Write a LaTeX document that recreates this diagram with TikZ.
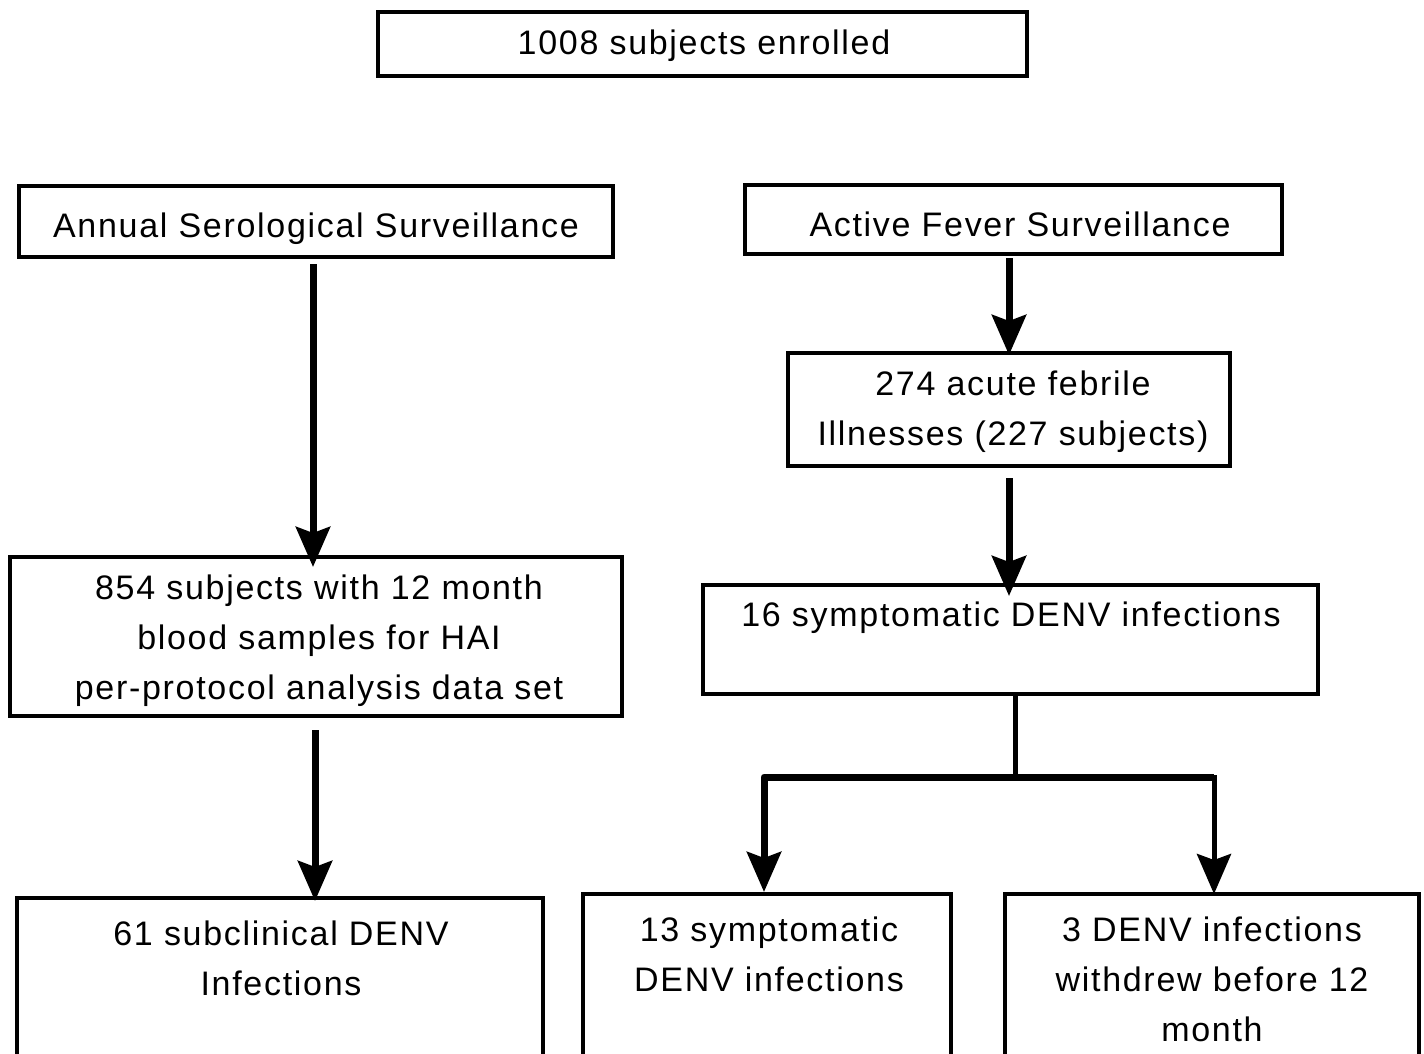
\documentclass[tikz,border=0pt]{standalone}
\usepackage{fontspec}
\setmainfont[LetterSpace=5]{Liberation Sans}
\usetikzlibrary{arrows.meta}
\begin{document}
\begin{tikzpicture}[x=1pt,y=-1pt,
  box/.style={draw=black,line width=4pt,fill=white,inner sep=0pt},
  txt/.style={font=\fontsize{34}{50}\selectfont,align=center,inner sep=0pt},
  arr/.style={line width=7pt,-{Stealth[length=40pt,width=34pt,inset=6pt]}},
  conn/.style={line width=5pt}]
\clip (0,0) rectangle (1424,1053);
\fill[white] (0,0) rectangle (1424,1053);
% boxes
\node[box,minimum width=649pt,minimum height=64pt] (top) at (702.5,44) {};
\node[box,minimum width=594pt,minimum height=71pt] (ann) at (316,221.5) {};
\node[box,minimum width=537pt,minimum height=69pt] (act) at (1013.5,219.5) {};
\node[box,minimum width=442pt,minimum height=113pt] (feb) at (1009,409.5) {};
\node[box,minimum width=612pt,minimum height=159pt] (hai) at (316,636.5) {};
\node[box,minimum width=615pt,minimum height=109pt] (sym) at (1010.5,639.5) {};
\node[box,minimum width=526pt,minimum height=180pt] (sub) at (280,988) {};
\node[box,minimum width=368pt,minimum height=180pt] (s13) at (767,984) {};
\node[box,minimum width=414pt,minimum height=180pt] (wd) at (1212,984) {};
% texts
\node[txt] (ttop) at (704,46) {1008 subjects enrolled};
\node[txt] (tann) at (316,229) {Annual Serological Surveillance};
\node[txt] (tact) at (1020,224) {Active Fever Surveillance};
\node[txt] (tfeb) at (1013,412) {274 acute febrile\\Illnesses (227 subjects)};
\node[txt] (thai) at (319,641) {854 subjects with 12 month\\blood samples for HAI\\per-protocol analysis data set};
\node[txt] (tsym) at (1011,618) {16 symptomatic DENV infections};
\node[txt] (tsub) at (281,958) {61 subclinical DENV\\Infections};
\node[txt] (t13) at (769,954) {13 symptomatic\\DENV infections};
\node[txt] (twd) at (1212,979) {3 DENV infections\\withdrew before 12\\month};
% connectors
\coordinate (split) at (1015,777);
\coordinate (xa) at (313,0);
\coordinate (xb) at (315,0);
\coordinate (xc) at (1009,0);
\draw[arr] (xa |- ann.south) ++(0,5) -- ([yshift=-12pt]xa |- hai.north);
\draw[arr] (xb |- hai.south) ++(0,12) -- ([yshift=-5pt]xb |- sub.north);
\draw[arr] (xc |- act.south) ++(0,2) -- ([yshift=-4pt]xc |- feb.north);
\draw[arr] (xc |- feb.south) ++(0,10) -- ([yshift=-13pt]xc |- sym.north);
\draw[conn] (sym.south -| split) -- (split);
\draw[arr,line join=round] (1214,777) -- (764,777) -- (764,892);
\draw[arr,line width=5pt] (1015,777) -- (1214,777) -- (1214,894);
\end{tikzpicture}
\end{document}
